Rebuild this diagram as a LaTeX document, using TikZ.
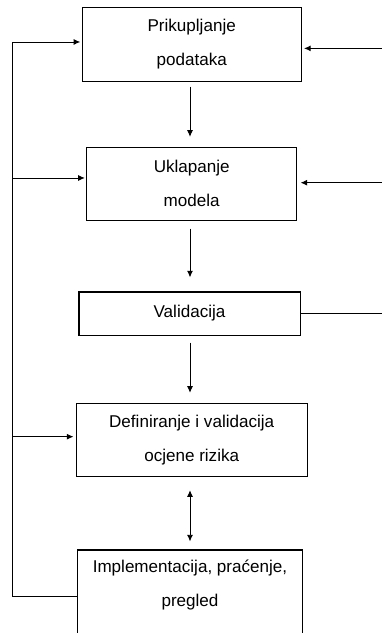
\documentclass[tikz,border=0pt]{standalone}
\usepackage{fontspec}
\setmainfont{Liberation Sans}
\usetikzlibrary{arrows.meta}

\begin{document}
\begin{tikzpicture}[x=0.75pt,y=-0.75pt,
        box/.style={draw,line width=0.8pt,align=center,inner sep=0pt,
            font=\fontsize{12.8}{25.5}\selectfont},
        flow/.style={-{Latex[length=5pt,width=4.5pt]},line width=0.7pt},
        twoway/.style={{Latex[length=5pt,width=4.5pt]}-{Latex[length=5pt,width=4.5pt]},line width=0.7pt}]
            \useasboundingbox (0,0) rectangle (382,633);
            \clip (0,0) rectangle (382,633);
            \coordinate (rail) at (12,0);
            \coordinate (edge) at (384,0);
            \coordinate (mid) at (190,0);
            \node [box,minimum width=164.3pt,minimum height=55pt] (prik) at (191.7,44.5) {Prikupljanje\\podataka};
            \node [box,minimum width=157.5pt,minimum height=54.5pt] (ukl) at (191.7,183.7) {Uklapanje\\modela};
            \node [box,minimum width=165.8pt,minimum height=32.3pt] (val) at (189.5,313.5) {Validacija};
            \node [box,minimum width=173.5pt,minimum height=55pt] (def) at (191.7,440) {Definiranje i validacija\\ocjene rizika};
            \node [box,minimum width=169pt,minimum height=75pt] (impl) at (190,600) {Implementacija, praćenje,\\pregled\\\mbox{}};
            \draw [flow,shorten <=3.75pt,shorten >=7.5pt] (prik.south -| mid)-- (ukl.north -| mid);
            \draw [flow,shorten <=6pt,shorten >=10.5pt] (ukl.south -| mid)-- (val.north -| mid);
            \draw [flow,shorten <=5.25pt,shorten >=7.5pt] (val.south -| mid)-- (def.north -| mid);
            \draw [twoway,shorten <=9.75pt,shorten >=6pt] (def.south -| mid)-- (impl.north -| mid);
            \draw [flow,shorten >=1pt] ([yshift=3pt]impl.west)-- ([yshift=3pt]impl.west -| rail) |- ([yshift=1.9pt]prik.west);
            \draw [flow,shorten >=1pt] ([yshift=4.3pt]ukl.west -| rail)-- ([yshift=4.3pt]ukl.west);
            \draw [flow,shorten >=1.5pt] ([yshift=2.5pt]def.west -| rail)-- ([yshift=2.5pt]def.west);
            \draw [flow,shorten >=1.7pt] ([yshift=-2.9pt]prik.east -| edge)-- ([yshift=-2.9pt]prik.east);
            \draw [flow,shorten >=2.5pt] ([yshift=0.75pt]ukl.east -| edge)-- ([yshift=0.75pt]ukl.east);
            \draw [line width=0.7pt] (val.east)-- (val.east -| edge);
        \end{tikzpicture}
\end{document}
